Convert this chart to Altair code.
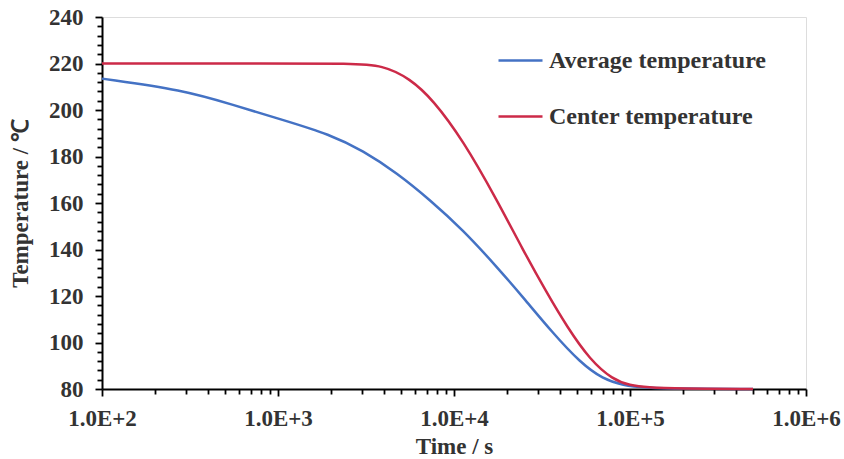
import altair as alt
import pandas as pd

# Cooling curves: time (s) vs temperature (°C)
avg_time = [100, 288, 555, 1067, 1973, 3040, 4740, 7310, 11250, 17540, 24650,
            36480, 51950, 70300, 91300, 121600, 192000, 500000]
avg_temp = [213.5, 208.6, 202.2, 195.7, 189.5, 182.5, 172.9, 161.3, 148.4, 132.5, 119.5,
            104.0, 91.5, 84.2, 81.6, 80.6, 80.1, 80.0]

ctr_time = [100, 1000, 2570, 3950, 5620, 7580, 11250, 17540, 24650, 33700,
            43900, 59300, 80000, 100000, 125000, 190000, 500000]
ctr_temp = [220, 220, 220, 219.3, 213.5, 204.5, 187, 161.3, 139.8, 121.3,
            106.7, 92.5, 84.0, 81.6, 80.7, 80.2, 80.0]

series_names = ["Average temperature", "Center temperature"]
series_colors = ["#4472C4", "#CC2A48"]

# Axis tick positions
x_major = [100, 1000, 10000, 100000, 1000000]
x_ticks = [d * m for d in x_major[:-1] for m in range(1, 10)] + [x_major[-1]]
y_ticks = list(range(80, 241, 4))

df = pd.concat([
    pd.DataFrame({"time": avg_time, "temp": avg_temp, "series": series_names[0], "order": range(len(avg_time))}),
    pd.DataFrame({"time": ctr_time, "temp": ctr_temp, "series": series_names[1], "order": range(len(ctr_time))}),
])

FONT = "Liberation Serif"
TXT = "#333333"

major_js = "[" + ",".join(str(v) for v in x_major) + "]"

x_axis = alt.Axis(
    values=x_ticks,
    labelExpr=f"indexof({major_js}, datum.value) >= 0 ? '1.0E+' + round(log(datum.value)/LN10) : ''",
    tickSize={"condition": {"test": f"indexof({major_js}, datum.value) >= 0", "value": 7}, "value": 5},
    labelOverlap=False,
    labelFlush=False,
    grid=False,
    domainColor="black", domainWidth=2,
    tickColor="black", tickWidth=1.8,
    labelFont=FONT, labelFontSize=23, labelFontWeight="bold", labelColor=TXT,
    labelPadding=11,
    title="Time / s",
    titleFont=FONT, titleFontSize=23, titleFontWeight="bold", titleColor=TXT,
    titlePadding=5,
)

y_axis = alt.Axis(
    values=y_ticks,
    labelExpr="datum.value % 20 == 0 ? datum.value : ''",
    tickSize={"condition": {"test": "datum.value % 20 == 0", "value": 7}, "value": 5},
    labelOverlap=False,
    labelFlush=False,
    grid=False,
    domainColor="black", domainWidth=2,
    tickColor="black", tickWidth=1.8,
    labelFont=FONT, labelFontSize=23, labelFontWeight="bold", labelColor=TXT,
    labelPadding=12,
    title="Temperature / ℃",
    titleFont=FONT, titleFontSize=23, titleFontWeight="bold", titleColor=TXT,
    titlePadding=16,
)

chart = alt.Chart(df).mark_line(strokeWidth=2.5, interpolate="basis").encode(
    x=alt.X("time:Q", scale=alt.Scale(type="log", domain=[100, 1000000], nice=False), axis=x_axis),
    y=alt.Y("temp:Q", scale=alt.Scale(domain=[80, 240], nice=False, zero=False), axis=y_axis),
    color=alt.Color(
        "series:N",
        scale=alt.Scale(domain=series_names, range=series_colors),
        legend=alt.Legend(
            title=None,
            orient="none",
            legendX=395,
            legendY=20,
            symbolType="stroke",
            symbolSize=1936,
            symbolStrokeWidth=2.5,
            labelFont=FONT, labelFontSize=24, labelFontWeight="bold", labelColor=TXT,
            labelOffset=5,
            rowPadding=20,
            labelLimit=400,
        ),
    ),
    order="order:Q",
).properties(
    width=704,
    height=372,
    autosize=alt.AutoSizeParams(type="none"),
    padding={"left": 102, "top": 17, "right": 38, "bottom": 70},
).configure_view(
    stroke="black", strokeWidth=2
).configure(
    background="white"
)

chart.save("out.html", embed_options={"renderer": "svg", "actions": False})
